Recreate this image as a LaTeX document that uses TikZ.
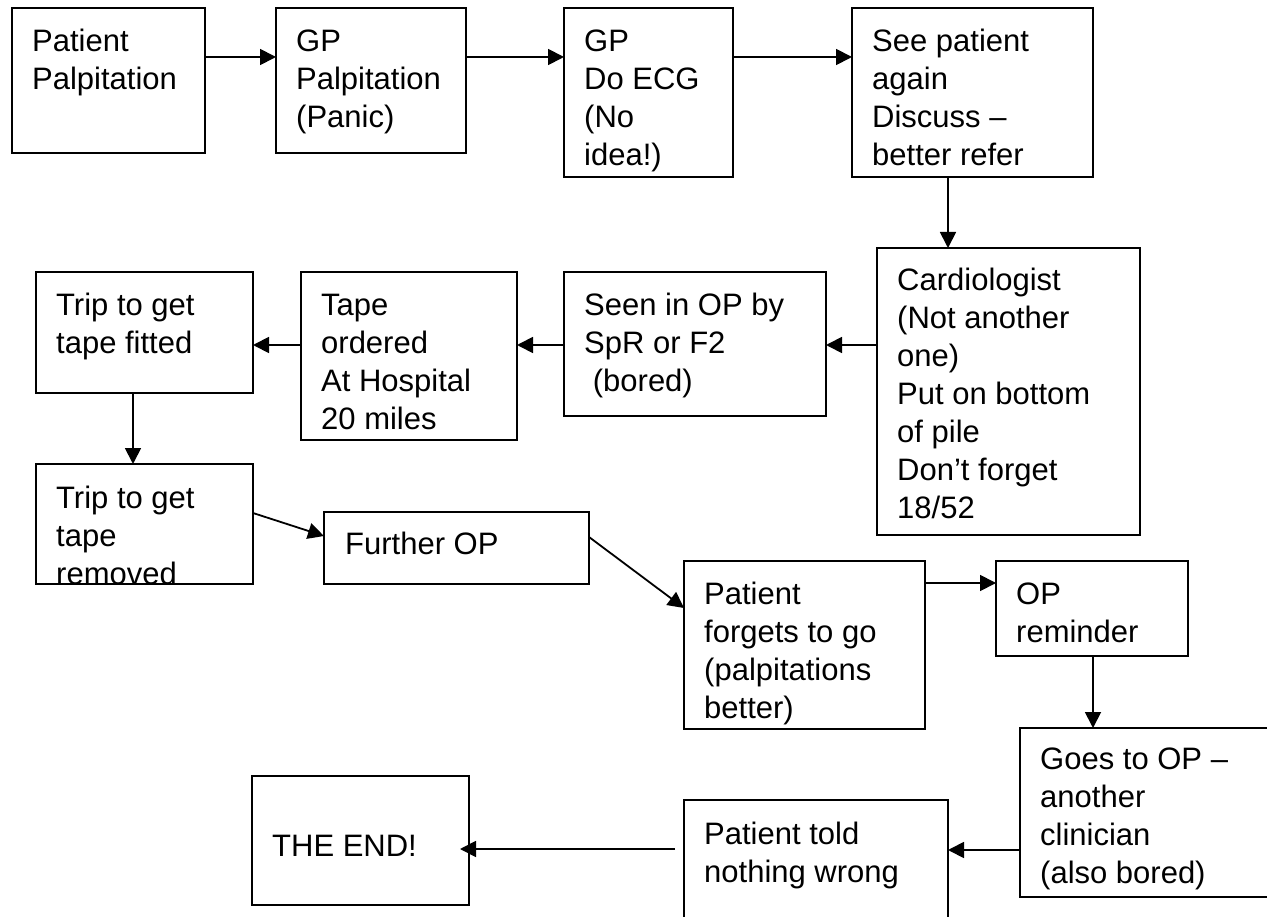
\documentclass[tikz,border=0pt]{standalone}
\usepackage{fontspec}
\setmainfont{Liberation Sans}
\usetikzlibrary{arrows.meta,calc}
\newcommand{\bxt}[1]{\begin{tabular}[t]{@{}l@{}}#1\end{tabular}}
\newcommand{\flowbox}[5]{\node[box, minimum width=#4pt, minimum height=#5pt] (#1) at (#2,#3) {};}
\begin{document}
\begin{tikzpicture}[x=1pt,y=-1pt,
  box/.style={draw, line width=1.8pt, anchor=north west, inner sep=0pt, outer sep=0pt},
  txt/.style={inner sep=0pt, anchor=base west, font=\fontsize{31}{38}\selectfont},
  arr/.style={line width=1.8pt, -{Triangle[length=16pt,width=16pt]}}]
\useasboundingbox (0,0) rectangle (1267,917);
\fill[white] (0,0) rectangle (1267,917);
\begin{scope}
\clip (0,0) rectangle (1267,917);
% boxes
\flowbox{b1}{12}{8}{193}{145}
\flowbox{b2}{276}{8}{190}{145}
\flowbox{b3}{564}{8}{169}{169}
\flowbox{b4}{852}{8}{241}{169}
\flowbox{b5}{877}{248}{263}{287}
\flowbox{b6}{564}{272}{262}{144}
\flowbox{b7}{301}{272}{216}{168}
\flowbox{b8}{36}{272}{217}{121}
\flowbox{b9}{36}{464}{217}{120}
\flowbox{b10}{324}{512}{265}{72}
\flowbox{b11}{684}{561}{241}{168}
\flowbox{b12}{996}{561}{192}{95}
\flowbox{b13}{1020}{728}{262}{169}
\flowbox{b14}{684}{800}{264}{130}
\flowbox{b15}{252}{776}{217}{129}
% texts
\node[txt] (t1) at ([shift={(20,44)}]b1.north west) {\bxt{Patient\\Palpitation}};
\node[txt] (t2) at ([shift={(20,44)}]b2.north west) {\bxt{GP\\Palpitation\\(Panic)}};
\node[txt] (t3) at ([shift={(20,44)}]b3.north west) {\bxt{GP\\Do ECG\\(No\\idea!)}};
\node[txt] (t4) at ([shift={(20,44)}]b4.north west) {\bxt{See patient\\again\\Discuss –\\better refer}};
\node[txt] (t5) at ([shift={(20,43)}]b5.north west) {\bxt{Cardiologist\\(Not another\\one)\\Put on bottom\\of pile\\Don’t forget\\18/52}};
\node[txt] (t6) at ([shift={(20,44)}]b6.north west) {\bxt{Seen in OP by\\SpR or F2\\\hspace*{0.28em}(bored)}};
\node[txt] (t7) at ([shift={(20,44)}]b7.north west) {\bxt{Tape\\ordered\\At Hospital\\20 miles}};
\node[txt] (t8) at ([shift={(20,44)}]b8.north west) {\bxt{Trip to get\\tape fitted}};
\node[txt] (t9) at ([shift={(20,44)}]b9.north west) {\bxt{Trip to get\\tape\\removed}};
\node[txt] (t10) at ([shift={(21,42)}]b10.north west) {\bxt{Further OP}};
\node[txt] (t11) at ([shift={(20,43)}]b11.north west) {\bxt{Patient\\forgets to go\\(palpitations\\better)}};
\node[txt] (t12) at ([shift={(20,43)}]b12.north west) {\bxt{OP\\reminder}};
\node[txt] (t13) at ([shift={(20,41)}]b13.north west) {\bxt{Goes to OP –\\another\\clinician\\(also bored)}};
\node[txt] (t14) at ([shift={(20,44)}]b14.north west) {\bxt{Patient told\\nothing wrong}};
\node[txt] (t15) at ([shift={(20,80)}]b15.north west) {\bxt{THE END!}};
% connectors
\draw[arr] (b1.east |- 0,57) -- (b2.west |- 0,57);
\draw[arr] (b2.east |- 0,57) -- (b3.west |- 0,57);
\draw[arr] (b3.east |- 0,57) -- (b4.west |- 0,57);
\draw[arr] (b4.south -| 948,0) -- (b5.north -| 948,0);
\draw[arr] (b5.west |- 0,345) -- (b6.east |- 0,345);
\draw[arr] (b6.west |- 0,345) -- (b7.east |- 0,345);
\draw[arr] (b7.west |- 0,345) -- (b8.east |- 0,345);
\draw[arr] (b8.south -| 133,0) -- (b9.north -| 133,0);
\draw[arr] (b9.east |- 0,513) -- (b10.west |- 0,536);
\draw[arr] (b10.east |- 0,537) -- (b11.west |- 0,608);
\draw[arr] (b11.east |- 0,583) -- (b12.west |- 0,583);
\draw[arr] (b12.south -| 1093,0) -- (b13.north -| 1093,0);
\draw[arr] (b13.west |- 0,850) -- (b14.east |- 0,850);
\draw[arr] ($(b14.west |- 0,849)+(-9,0)$) -- ($(b15.east |- 0,849)+(-9,0)$);
\end{scope}
\end{tikzpicture}
\end{document}
